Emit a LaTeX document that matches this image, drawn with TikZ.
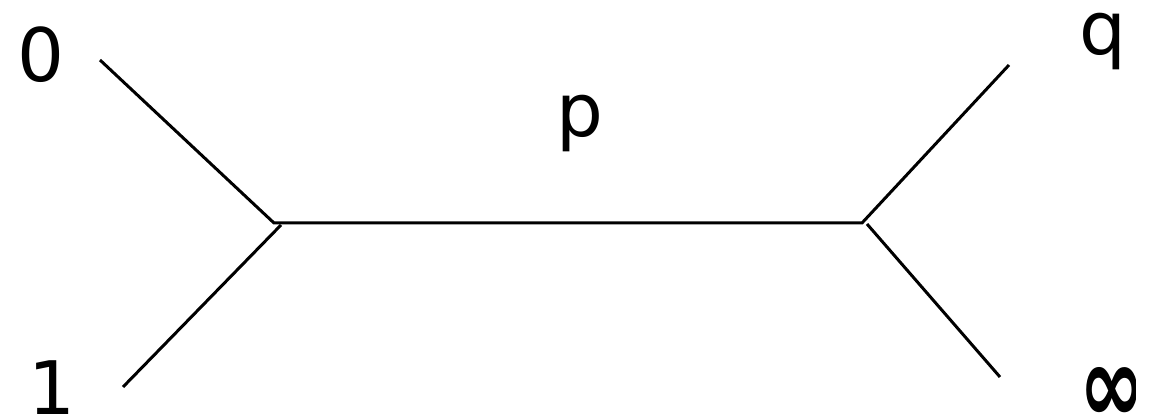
\documentclass[tikz,border=0pt]{standalone}
\usepackage{fontspec}
\setmainfont{DejaVu Sans}
\begin{document}
\begin{tikzpicture}[
    font=\fontsize{21}{25}\selectfont,
    edge/.style={draw=black, line width=0.85pt},
    leaflabel/.style={anchor=base, inner sep=0pt},
  ]
  \useasboundingbox (0,0) rectangle (11.62,4.19);

  % Junctions of the tree
  \coordinate (jl)  at (2.74,1.96);
  \coordinate (jl2) at (2.81,1.94);
  \coordinate (jr)  at (8.62,1.96);
  \coordinate (jr2) at (8.67,1.95);

  % Free ends of the leaf edges
  \coordinate (end0)   at (1.00,3.59);
  \coordinate (end1)   at (1.23,0.32);
  \coordinate (endq)   at (10.09,3.54);
  \coordinate (endinf) at (10.00,0.42);

  \draw[edge] (end0) -- (jl) -- (jr) -- (endq);
  \draw[edge] (end1) -- (jl2);
  \draw[edge] (jr2) -- (endinf);

  \node[leaflabel] (lab0) at (0.41,3.37) {0};
  \node[leaflabel] (lab1) at (0.515,0.04) {1};
  \node[leaflabel] (labp) at (5.80,2.82) {p};
  \node[leaflabel] (labq) at (11.03,3.64) {q};

  % The infinity label is cut off on its right side
  \begin{scope}
    \clip (10.5,0) rectangle (11.355,1.2);
    \node[leaflabel, anchor=base west, xscale=0.72, transform shape,
          font=\fontsize{31}{36}\selectfont\bfseries]
      (labinf) at (10.79,-0.04) {∞};
  \end{scope}
\end{tikzpicture}
\end{document}
